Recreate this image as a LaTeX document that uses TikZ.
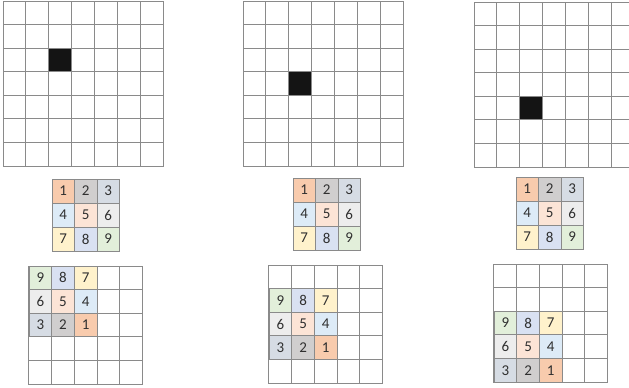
\documentclass[tikz,border=0pt]{standalone}
\usepackage{fontspec}
\setmainfont{Carlito}

\definecolor{linie}{HTML}{8A8A8A}
\definecolor{schwarz}{HTML}{141414}
\definecolor{ziffer}{HTML}{303030}
\definecolor{k1}{HTML}{F8CBAD}
\definecolor{k2}{HTML}{D0CECE}
\definecolor{k3}{HTML}{D6DCE4}
\definecolor{k4}{HTML}{DDEBF7}
\definecolor{k5}{HTML}{FCE4D6}
\definecolor{k6}{HTML}{EDEDED}
\definecolor{k7}{HTML}{FFF2CC}
\definecolor{k8}{HTML}{D9E1F2}
\definecolor{k9}{HTML}{E2EFDA}

\tikzset{
    feld/.style={draw=linie, line width=0.9pt, inner sep=0pt,
        minimum width=22.86pt, minimum height=23.6pt},
    kern/.style={feld, minimum width=22.5pt, minimum height=24pt,
        text=ziffer, font=\fontsize{15}{15}\selectfont}
}

\begin{document}
\begin{tikzpicture}[x=1pt, y=-1pt]
    \useasboundingbox (0,0) rectangle (629,388);
    \clip (0,0) rectangle (629,388);
    % eingabe 7x7 mit schwarzem feld
    \foreach \g/\gx/\gy/\br in {1/3/1/2, 2/243/1/3, 3/474/2/4} {
        \foreach \r in {0,...,6}
            \foreach \c in {0,...,6}
                \node[feld] (g\g-\r-\c) at ({\gx+(\c+0.5)*22.86}, {\gy+(\r+0.5)*23.57}) {};
        \node[feld, fill=schwarz] (s\g) at ({\gx+2.5*22.86}, {\gy+(\br+0.5)*23.57}) {};
    }
    % kernel 3x3
    \foreach \g/\kx/\ky in {1/52/179, 2/293/178, 3/516/177} {
        \foreach \n [evaluate=\n as \r using {int(floor((\n-1)/3))},
                     evaluate=\n as \c using {int(mod(\n-1,3))}] in {1,...,9}
            \node[kern, fill=k\n] (k\g-\n) at ({\kx+(\c+0.5)*22.5}, {\ky+(\r+0.5)*24}) {\n};
    }
    % ausgabe 5x5 mit gespiegeltem kernel
    \foreach \g/\bx/\by/\o in {1/29/266/0, 2/269/265/1, 3/494/264/2} {
        \foreach \r in {0,...,4}
            \foreach \c in {0,...,4}
                \node[feld] (b\g-\r-\c) at ({\bx+(\c+0.5)*22.7}, {\by+(\r+0.5)*23.6}) {};
        \foreach \n [evaluate=\n as \r using {int(\o+2-floor((\n-1)/3))},
                     evaluate=\n as \c using {int(2-mod(\n-1,3))}] in {1,...,9}
            \node[kern, fill=k\n, minimum width=22.7pt, minimum height=23.6pt]
                (f\g-\n) at ({\bx+(\c+0.5)*22.7}, {\by+(\r+0.5)*23.6}) {\n};
    }
\end{tikzpicture}
\end{document}
